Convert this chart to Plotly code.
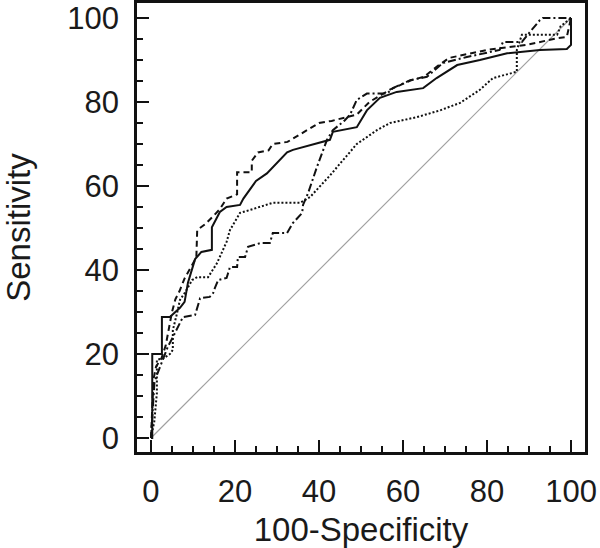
import plotly.graph_objects as go

# ROC curve data (100-Specificity, Sensitivity)
solid_x = [0, 0.3, 0.3, 2.6, 2.6, 4.5, 6.9, 8, 8.8, 10.5, 12, 14.5, 14.5, 16.4, 18, 21.2, 22, 25, 27.6, 32.4, 33.8,
           37.9, 42.6, 43.3, 49, 51.4, 54.5, 58.5, 64.8, 68, 72.9, 78.3, 84.8, 92.6, 99, 100, 100]
solid_y = [0, 0, 20, 20, 28.8, 28.8, 31, 32.4, 37, 42.6, 44.3, 44.8, 50.2, 53.8, 55, 55.5, 57, 61.2, 63, 68, 68.6,
           69.8, 71, 72.9, 74, 78, 81, 82.4, 83.3, 85.7, 88.8, 90, 91.6, 92.4, 92.6, 93.6, 100]

dashed_x = [0, 0.3, 0.6, 1.2, 2.5, 3.5, 4.2, 5, 5.8, 6.8, 8, 9.8, 10.8, 11, 13, 15, 16.4, 18, 20.5, 20.5, 24, 24,
            25.5, 28, 29, 32.5, 35, 38, 40, 43, 49, 52, 57, 62, 65, 68, 71, 80, 89.5, 96.7, 99, 100]
dashed_y = [0, 8, 14, 17, 19, 22, 26, 30, 33, 35, 38, 41, 43, 49.5, 51, 53, 54.5, 57, 58, 63.3, 63.3, 66,
            68, 68.5, 70, 70.5, 72, 73.8, 75, 75.5, 77, 80, 83, 85.2, 86, 88.4, 90.5, 92.4, 93.6, 95.2, 95.5, 100]

dotted_x = [0, 0.8, 1.4, 1.4, 3, 4.5, 5.2, 5.2, 6.2, 6.9, 8, 9.8, 11, 13.6, 15.7, 18, 18.8, 21.2, 23.6, 29, 35.5,
            37.9, 42.6, 49, 53.8, 56.9, 63.3, 68.8, 73.6, 78.3, 81.4, 86.2, 87.1, 87.1, 88.3, 96.7, 97.5, 100]
dotted_y = [0, 4, 10.7, 18.6, 19, 20, 21, 25.7, 29.7, 32.9, 34.5, 37.6, 38.3, 38.3, 41.6, 46.7, 49.5, 53.6, 54.3, 56, 56,
            57.4, 62.5, 70, 73.3, 75, 76.4, 78, 79.8, 82.9, 85.7, 86.9, 87.2, 92.4, 96, 96, 98, 100]

dashdot_x = [0, 0.3, 0.8, 1.4, 2.9, 4, 5.2, 6.9, 7.6, 10.5, 11, 11.7, 14, 14.8, 15.2, 16, 18, 18.3, 18.8, 20.5, 20.7,
             22.4, 23.1, 26, 28.3, 29, 32.4, 33.8, 36, 36.2, 37.4, 39.5, 41.9, 43.3, 46, 47.4, 49, 51.4, 56.2, 57.6,
             61.7, 65.7, 69.5, 75.2, 83, 83.8, 88.3, 90, 92.6, 93.3, 100]
dashdot_y = [0, 6, 13, 15, 18.6, 21.7, 24, 27.4, 28.8, 29.3, 31, 33.3, 33.6, 34.5, 35.7, 37.6, 38.1, 39.3, 40.7, 40.7, 43.1,
             43.1, 45.5, 46.4, 46.4, 48.8, 48.8, 51.2, 53.6, 55.5, 58.3, 64.5, 71, 73.3, 75.5, 77, 80.5, 82, 82, 83.3,
             85.2, 86, 89.3, 90.7, 92.4, 94.3, 94.3, 96.4, 99.5, 100, 100]

diag = [0, 100]
tick_vals = [0, 20, 40, 60, 80, 100]

FONT = "Liberation Sans, Arial"

fig = go.Figure()
fig.add_trace(go.Scatter(x=diag, y=diag, mode="lines", line=dict(color="#a0a0a0", width=1.2), showlegend=False))
fig.add_trace(go.Scatter(x=dotted_x, y=dotted_y, mode="lines",
                         line=dict(color="#111", width=2, dash="2px,2px"), showlegend=False))
fig.add_trace(go.Scatter(x=dashdot_x, y=dashdot_y, mode="lines",
                         line=dict(color="#111", width=2, dash="8px,3px,2px,3px"), showlegend=False))
fig.add_trace(go.Scatter(x=dashed_x, y=dashed_y, mode="lines",
                         line=dict(color="#111", width=2, dash="6px,4px"), showlegend=False))
fig.add_trace(go.Scatter(x=solid_x, y=solid_y, mode="lines",
                         line=dict(color="#111", width=2), showlegend=False))

axis_common = dict(
    automargin=False,
    showgrid=False, zeroline=False, showline=True, linecolor="#111", linewidth=2.5, mirror=True,
    ticks="inside", ticklen=12, tickwidth=2, tickcolor="#111",
    tickvals=tick_vals, tickfont=dict(family=FONT, size=31, color="#1a1a1a"),
    minor=dict(ticks="inside", ticklen=6, tickwidth=1.5, tickcolor="#111", dtick=5, tick0=0, showgrid=False),
)

fig.update_xaxes(range=[-3.33, 103.33], title=dict(text="100-Specificity", standoff=17,
                 font=dict(family=FONT, size=33, color="#1a1a1a")),
                 ticklabelstandoff=10, **axis_common)
fig.update_yaxes(range=[-3.33, 103.57], title=dict(text="Sensitivity", standoff=34,
                 font=dict(family=FONT, size=33, color="#1a1a1a")),
                 ticklabelstandoff=9, **axis_common)

fig.update_layout(
    width=600, height=548, plot_bgcolor="white", paper_bgcolor="white",
    margin=dict(l=137, r=15, t=3, b=96),
)
fig.write_html("out.html", config={"displayModeBar": False},
               post_script="document.body.style.margin='0px';")
